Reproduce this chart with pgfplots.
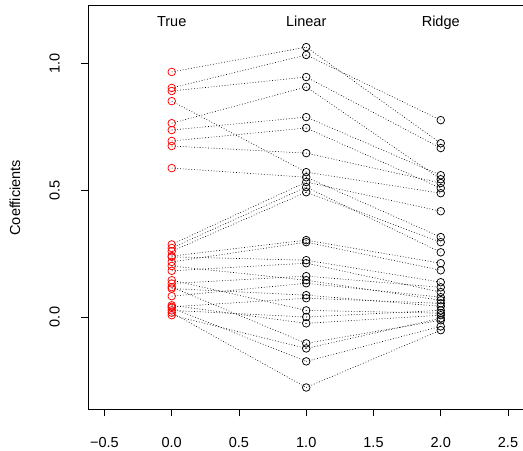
\documentclass[border=0pt]{standalone}
\usepackage{pgfplots}
\usepackage{pgfplotstable}
\pgfplotsset{compat=1.18}
\usepackage{fontspec}
\setmainfont{Liberation Sans}

\pgfplotstableread{
t l r
0.966 1.064 0.685
0.903 1.033 0.776
0.891 0.946 0.666
0.851 0.571 0.488
0.764 0.907 0.543
0.737 0.788 0.559
0.694 0.745 0.508
0.674 0.646 0.528
0.587 0.551 0.315
0.286 0.532 0.417
0.272 0.512 0.255
0.259 0.492 0.295
0.240 0.303 0.212
0.237 0.224 0.137
0.217 0.295 0.184
0.201 0.145 0.066
0.182 0.212 0.098
0.145 0.026 0.015
0.132 0.161 0.117
0.118 -0.104 -0.013
0.112 0.086 0.042
0.082 0.133 0.078
0.046 -0.025 0.007
0.040 0.074 0.054
0.036 -0.175 -0.037
0.026 0.000 0.026
0.017 -0.278 -0.052
0.007 -0.124 -0.005
}\coef

\begin{document}
\begin{tikzpicture}[font=\fontsize{14.5}{17}\selectfont]
\begin{axis}[
  scale only axis,
  width=436pt, height=403.5pt,
  xmin=-0.622, xmax=2.622,
  ymin=-0.364, ymax=1.228,
  axis line style={line width=0.8pt},
  tick align=outside,
  tick pos=left,
  major tick length=7pt,
  every tick/.style={black, line width=0.8pt},
  xtick={-0.5,0,0.5,1,1.5,2,2.5},
  xticklabels={−0.5,0.0,0.5,1.0,1.5,2.0,2.5},
  ytick={0,0.5,1},
  yticklabels={0.0,0.5,1.0},
  tick label style={font=\fontsize{14.5}{17}\selectfont},
  xticklabel style={anchor=north, inner sep=0pt, yshift=-20.5pt},
  yticklabel style={rotate=90, anchor=south, inner sep=0pt, yshift=21pt},
  every axis y label/.style={at={(axis description cs:-0.1674,0.524)}, rotate=90, anchor=center, font=\fontsize{14.5}{17}\selectfont},
  ylabel={Coefficients},
  clip=false,
]
\addplot[black, dash pattern=on 0.8pt off 2pt, line width=0.6pt,
  quiver={u=1, v={\thisrow{l}-\thisrow{t}}}] table[x expr=0, y=t] {\coef};
\addplot[black, dash pattern=on 0.8pt off 2pt, line width=0.6pt,
  quiver={u=1, v={\thisrow{r}-\thisrow{l}}}] table[x expr=1, y=l] {\coef};
\addplot[only marks, mark=o, mark size=3.8pt, red, mark options={line width=0.75pt}] table[x expr=0, y=t] {\coef};
\addplot[only marks, mark=o, mark size=3.8pt, black, mark options={line width=0.75pt}] table[x expr=1, y=l] {\coef};
\addplot[only marks, mark=o, mark size=3.8pt, black, mark options={line width=0.75pt}] table[x expr=2, y=r] {\coef};
\node[anchor=base] at (axis cs:0,1.147) {True};
\node[anchor=base] at (axis cs:1,1.147) {Linear};
\node[anchor=base] at (axis cs:2,1.147) {Ridge};
\end{axis}
\pgfresetboundingbox
\path ([xshift=-88pt,yshift=-41pt]current axis.south west) rectangle ([xshift=-1.4pt,yshift=5.5pt]current axis.north east);
\end{tikzpicture}
\end{document}
